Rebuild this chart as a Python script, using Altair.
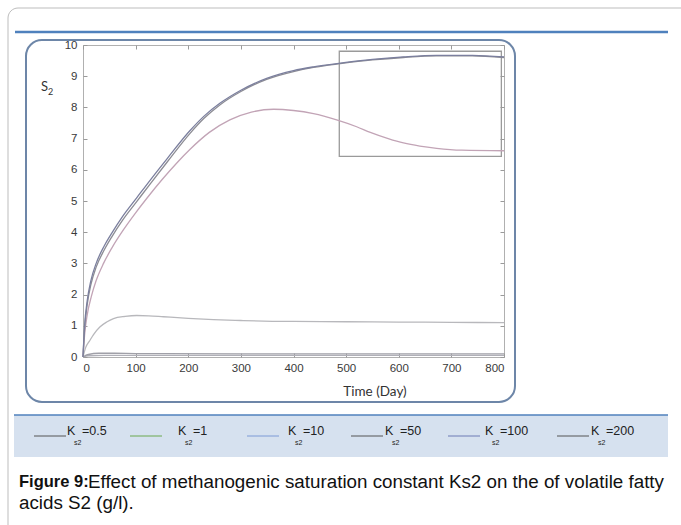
import altair as alt
import pandas as pd

# ---------------- data ----------------
t_200 = [0, 3, 8, 15, 25, 40, 55, 75, 102, 130, 160, 203, 230, 260, 300, 349, 400, 438, 489, 550, 609, 672, 740, 800]
s_200 = [0, 1.0, 1.8, 2.45, 3.0, 3.55, 3.98, 4.5, 5.1, 5.72, 6.36, 7.25, 7.72, 8.13, 8.55, 8.93, 9.18, 9.3, 9.42, 9.54, 9.62, 9.67, 9.67, 9.62]

t_100 = [0, 3, 8, 15, 25, 40, 55, 75, 102, 130, 160, 203, 230, 260, 300, 349, 400, 438, 489, 550, 609, 672, 740, 800]
s_100 = [0, 0.9, 1.68, 2.32, 2.88, 3.42, 3.86, 4.38, 4.98, 5.6, 6.25, 7.16, 7.65, 8.08, 8.51, 8.9, 9.15, 9.28, 9.4, 9.52, 9.6, 9.65, 9.65, 9.6]

t_50 = [0, 3, 8, 16, 25, 39, 55, 77, 100, 121, 150, 180, 203, 240, 279, 320, 362, 400, 438, 482, 520, 546, 580, 609, 640, 672, 720, 800]
s_50 = [0, 0.7, 1.35, 1.95, 2.45, 3.0, 3.5, 4.08, 4.62, 5.08, 5.68, 6.25, 6.65, 7.2, 7.6, 7.85, 7.94, 7.9, 7.8, 7.6, 7.38, 7.2, 7.0, 6.86, 6.76, 6.69, 6.63, 6.61]

t_10 = [0, 5, 13, 20, 32, 45, 58, 80, 102, 125, 153, 200, 248, 300, 343, 400, 500, 600, 700, 800]
s_10 = [0, 0.3, 0.53, 0.72, 0.96, 1.12, 1.23, 1.3, 1.33, 1.32, 1.29, 1.24, 1.2, 1.17, 1.15, 1.14, 1.13, 1.12, 1.11, 1.1]

t_1 = [0, 10, 30, 60, 100, 300, 800]
s_1 = [0, 0.08, 0.12, 0.12, 0.11, 0.1, 0.1]

t_05 = [0, 10, 40, 100, 800]
s_05 = [0, 0.04, 0.05, 0.05, 0.05]

ks_labels = ["0.5", "1", "10", "50", "100", "200"]
series_t = [t_05, t_1, t_10, t_50, t_100, t_200]
series_s = [s_05, s_1, s_10, s_50, s_100, s_200]

x_ticks = [0, 100, 200, 300, 400, 500, 600, 700, 800]
y_ticks = [0, 1, 2, 3, 4, 5, 6, 7, 8, 9, 10]

inset_x = [487, 795]
inset_y = [6.43, 9.8]

caption_bold = "Figure 9:"
caption_rest = "Effect of methanogenic saturation constant Ks2 on the of volatile fatty"
caption_line2 = "acids S2 (g/l)."

# ---------------- styles / layout ----------------
line_colors = ["#b0b0b8", "#a0a0a8", "#b8b8bc", "#c2a4b6", "#8c8c94", "#7b7f9e"]
legend_line_colors = ["#555555", "#6aa84f", "#7c9ad6", "#555555", "#6c7bb5", "#555555"]
legend_line_x = [34, 130, 247, 351, 448, 557]
legend_k_x = [67, 178, 288, 385, 485, 591]

L, T = 83, 45          # plot origin on the page
W, H = 421, 312        # plot area size

rows = []
for k, ts, ss in zip(ks_labels, series_t, series_s):
    for t, s in zip(ts, ss):
        rows.append({"t": t, "S": s, "ks": k})
df = pd.DataFrame(rows)

one = pd.DataFrame({"k": [0]})


def px(x):
    return x - L


def py(y):
    return y - T


def rect(x1, y1, x2, y2, **kw):
    return alt.Chart(one).mark_rect(**kw).encode(
        x=alt.value(px(x1)), x2=alt.value(px(x2)),
        y=alt.value(py(y1)), y2=alt.value(py(y2)))


def rule(x1, x2, y, color, width):
    return alt.Chart(one).mark_rule(color=color, strokeWidth=width).encode(
        x=alt.value(px(x1)), x2=alt.value(px(x2)), y=alt.value(py(y)))


def text(s, x, y, size, font="Liberation Sans", weight="normal", color="#222", align="left"):
    return alt.Chart(one).mark_text(
        text=s, font=font, fontSize=size, fontWeight=weight, color=color,
        align=align, baseline="middle").encode(x=alt.value(px(x)), y=alt.value(py(y)))


layers = []
# outer frame
layers.append(rect(8, 8, 700, 545, fill="white", fillOpacity=0, stroke="#bdbdbd",
                   strokeWidth=1, cornerRadius=10))
# top blue rule
layers.append(rule(15, 668, 32, "#4f81bd", 2.5))
# inner rounded panel
layers.append(rect(26, 40, 515, 402, fill="white", fillOpacity=0, stroke="#6d86a8",
                   strokeWidth=2, cornerRadius=16))
# legend band
layers.append(rect(14, 415, 668, 457, fill="#d6e1ef"))
layers.append(rule(14, 668, 415, "#4f81bd", 1.5))

xscale = alt.Scale(domain=[0, 800], nice=False, zero=False)
yscale = alt.Scale(domain=[0, 10], nice=False)

axis_common = dict(domain=False, grid=False, tickColor="#9a9a9a", tickSize=4, offset=-4,
                   labelFont="Liberation Sans", labelFontSize=11.5, labelColor="#3a3a3a",
                   title=None)

lines = alt.Chart(df).mark_line(interpolate="monotone", strokeWidth=1.3).encode(
    x=alt.X("t:Q", scale=xscale,
            axis=alt.Axis(values=x_ticks, orient="bottom", labelPadding=5, **axis_common)),
    y=alt.Y("S:Q", scale=yscale,
            axis=alt.Axis(values=y_ticks, orient="left", labelPadding=6, **axis_common)),
    color=alt.Color("ks:N", scale=alt.Scale(domain=ks_labels, range=line_colors), legend=None),
)

ghost = alt.Chart(df).mark_line(opacity=0).encode(
    x=alt.X("t:Q", scale=xscale,
            axis=alt.Axis(values=x_ticks, orient="top", labels=False, **axis_common)),
    y=alt.Y("S:Q", scale=yscale,
            axis=alt.Axis(values=y_ticks, orient="right", labels=False, **axis_common)),
    detail="ks:N",
)

inset = alt.Chart(one).mark_rect(fill="white", fillOpacity=0, stroke="#9a9a9a",
                                 strokeWidth=1.3).encode(
    x=alt.X(datum=inset_x[0], axis=None), x2=alt.X2(datum=inset_x[1]),
    y=alt.Y(datum=inset_y[0], axis=None), y2=alt.Y2(datum=inset_y[1]),
)

layers += [inset, lines, ghost]

# axis titles
layers.append(text("S", 41, 87, 13, font="Lato", color="#333"))
layers.append(text("2", 48, 92, 9, font="Lato", color="#333"))
layers.append(text("Time (Day)", 375, 392, 13.5, font="Lato", color="#333", align="center"))

# legend
for i, lab in enumerate(ks_labels):
    layers.append(rule(legend_line_x[i], legend_line_x[i] + 32, 436, legend_line_colors[i], 1))
    layers.append(text("K", legend_k_x[i], 431, 12.5, color="#222"))
    layers.append(text("s2", legend_k_x[i] + 7, 443, 7, color="#222"))
    layers.append(text("=" + lab, legend_k_x[i] + 15, 431, 12.5, color="#222"))

# caption
layers.append(text(caption_bold, 19, 482, 16.5, weight="bold", color="#111"))
layers.append(text(caption_rest, 88, 482, 18.8, color="#111"))
layers.append(text(caption_line2, 19, 503, 18.8, color="#111"))

chart = alt.layer(*layers).resolve_axis(x="independent", y="independent").properties(
    width=W, height=H,
    autosize=alt.AutoSizeParams(type="none"),
    padding={"left": L, "top": T, "right": 681 - L - W, "bottom": 525 - T - H},
    background="white",
).configure_view(stroke="#b0b0b0", strokeWidth=1)

chart.save("out.html", embed_options={"renderer": "svg", "actions": False})
